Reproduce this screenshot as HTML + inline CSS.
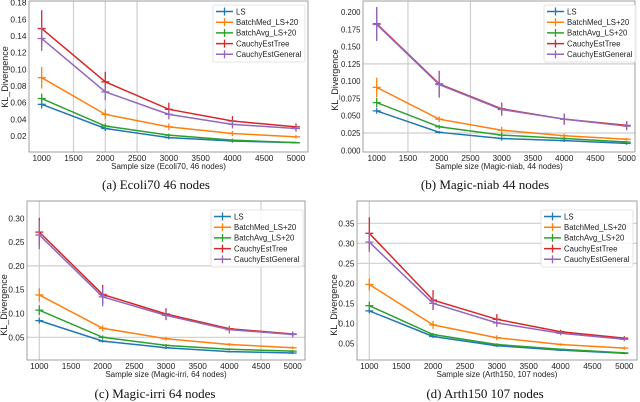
<!DOCTYPE html>
<html><head><meta charset="utf-8"><style>
html,body{margin:0;padding:0;background:#fff;}
svg{display:block;font-family:"Liberation Sans",sans-serif;}
.cap{font-family:"Liberation Serif",serif;font-size:13px;}
</style></head><body>
<svg id="fig" width="640" height="402" viewBox="0 0 640 402"></svg>
<script>
const xVals=[1000,2000,3000,4000,5000];
const xTicks=[1000,1500,2000,2500,3000,3500,4000,4500,5000];
const seriesNames=["LS","BatchMed_LS+20","BatchAvg_LS+20","CauchyEstTree","CauchyEstGeneral"];
const colors=["#1f77b4","#ff7f0e","#2ca02c","#d62728","#9467bd"];
// Panel a
const aLS=[.058,.029,.018,.014,.012], aMed=[.090,.046,.031,.023,.019], aAvg=[.065,.032,.021,.015,.012], aTree=[.149,.085,.052,.038,.031], aGen=[.137,.073,.046,.034,.029];
const aErrLS=[.005,.003,.002,.002,.001], aErrMed=[.013,.006,.004,.003,.002], aErrAvg=[.006,.003,.002,.002,.001], aErrTree=[.022,.012,.008,.006,.004], aErrGen=[.015,.010,.006,.005,.004];
const aYTicks=[.02,.04,.06,.08,.10,.12,.14,.16,.18];
// Panel b
const bLS=[.057,.026,.017,.014,.010], bMed=[.091,.045,.029,.021,.016], bAvg=[.069,.034,.022,.017,.012], bTree=[.183,.096,.060,.045,.036], bGen=[.182,.095,.059,.045,.035];
const bErrLS=[.004,.002,.003,.002,.002], bErrMed=[.014,.004,.005,.003,.002], bErrAvg=[.007,.003,.003,.002,.001], bErrTree=[.024,.019,.009,.008,.006], bErrGen=[.024,.019,.009,.008,.006];
const bYTicks=[0,.025,.05,.075,.1,.125,.15,.175,.2];
// Panel c
const cLS=[.085,.042,.028,.020,.017], cMed=[.139,.069,.047,.035,.028], cAvg=[.107,.050,.033,.025,.021], cTree=[.271,.140,.099,.068,.057], cGen=[.265,.135,.096,.066,.056];
const cErrLS=[.006,.003,.003,.002,.002], cErrMed=[.014,.006,.004,.003,.003], cErrAvg=[.010,.004,.003,.002,.002], cErrTree=[.030,.020,.012,.006,.005], cErrGen=[.030,.020,.010,.008,.006];
const cYTicks=[.05,.10,.15,.20,.25,.30];
// Panel d
const dLS=[.131,.067,.044,.033,.025], dMed=[.197,.096,.064,.047,.038], dAvg=[.144,.072,.047,.035,.026], dTree=[.325,.158,.110,.079,.063], dGen=[.303,.150,.101,.075,.060];
const dErrLS=[.006,.004,.003,.002,.002], dErrMed=[.015,.010,.006,.003,.004], dErrAvg=[.010,.004,.003,.002,.002], dErrTree=[.040,.025,.013,.005,.005], dErrGen=[.025,.015,.010,.005,.005];
const dYTicks=[.05,.10,.15,.20,.25,.30,.35];

const NS="http://www.w3.org/2000/svg";
const svg=document.getElementById("fig");
function mk(tag,attrs,parent){const e=document.createElementNS(NS,tag);for(const k in attrs)e.setAttribute(k,attrs[k]);(parent||svg).appendChild(e);return e;}

const panels=[
 {id:"a",series:[aLS,aMed,aAvg,aTree,aGen],errs:[aErrLS,aErrMed,aErrAvg,aErrTree,aErrGen],yt:aYTicks,dec:2,tf:8.3,
  box:[29,1,308,152],x0:41.7,x1:296,yA:.18,pA:2.7,yB:.02,pB:136,
  vg:[1500,2000,2500],hg:[],leg:[213,5],ylab:[5,77],xlab:"Sample size (Ecoli70, 46 nodes)",cap:"(a) Ecoli70 46 nodes",cx:156,capY:189},
 {id:"b",series:[bLS,bMed,bAvg,bTree,bGen],errs:[bErrLS,bErrMed,bErrAvg,bErrTree,bErrGen],yt:bYTicks,dec:3,tf:7.8,
  box:[363,1,635,152],x0:376.7,x1:626.7,yA:.2,pA:12,yB:0,pB:150.3,
  vg:[1500,2500],hg:[.125,.025],leg:[544,5],ylab:[335,80],xlab:"Sample size (Magic-niab, 44 nodes)",cap:"(b) Magic-niab 44 nodes",cx:485,capY:189},
 {id:"c",series:[cLS,cMed,cAvg,cTree,cGen],errs:[cErrLS,cErrMed,cErrAvg,cErrTree,cErrGen],yt:cYTicks,dec:2,tf:8.3,
  box:[27,201,305,360],x0:39.3,x1:292.7,yA:.30,pA:218.3,yB:.05,pB:337.3,
  vg:[1000,4500],hg:[.20,.05],leg:[211,210],ylab:[4,305],xlab:"Sample size (Magic-irri, 64 nodes)",cap:"(c) Magic-irri 64 nodes",cx:155,capY:398},
 {id:"d",series:[dLS,dMed,dAvg,dTree,dGen],errs:[dErrLS,dErrMed,dErrAvg,dErrTree,dErrGen],yt:dYTicks,dec:2,tf:8.3,
  box:[357,201,637,360],x0:369.3,x1:624.3,yA:.35,pA:223.3,yB:.05,pB:343.3,
  vg:[1000],hg:[.35,.30,.25],leg:[541,210],ylab:[334,305],xlab:"Sample size (Arth150, 107 nodes)",cap:"(d) Arth150 107 nodes",cx:485,capY:398}
];

panels.forEach(P=>{
  const g=mk("g",{});
  
  
  const X=v=>P.x0+(v-1000)/4000*(P.x1-P.x0);
  const Y=v=>P.pB+(v-P.yB)/(P.yA-P.yB)*(P.pA-P.pB);
  const [L,T,R,B]=P.box;
  P.vg.forEach(v=>{const l=mk("line",{x1:X(v),x2:X(v),y1:T,y2:B,stroke:"#cfcfcf","stroke-width":1.2},g);});
  P.hg.forEach(v=>{const l=mk("line",{x1:L,x2:R,y1:Y(v),y2:Y(v),stroke:"#cfcfcf","stroke-width":1.2},g);});
  const fr=mk("rect",{x:L,y:T,width:R-L,height:B-T,fill:"none",stroke:"#888","stroke-width":0.8},g);
  
  xTicks.forEach(v=>{const t=mk("text",{x:X(v),y:B+9,"font-size":8.3,"text-anchor":"middle",fill:"#222"},g);t.textContent=v;});
  P.yt.forEach(v=>{const t=mk("text",{x:L-2.5,y:Y(v)+3,"font-size":P.tf,"text-anchor":"end",fill:"#222"},g);t.textContent=v.toFixed(P.dec);});
  const xl=mk("text",{x:(L+R)/2,y:B+17,"font-size":8,"text-anchor":"middle",fill:"#222"},g);xl.textContent=P.xlab;
  
  const yl=mk("text",{x:P.ylab[0],y:P.ylab[1],"font-size":9,"text-anchor":"middle",fill:"#222",transform:`rotate(-90 ${P.ylab[0]} ${P.ylab[1]})`,"dominant-baseline":"central"},g);yl.textContent="KL_Divergence";
  
  P.series.forEach((s,i)=>{
    const sg=mk("g",{},g);
    
    
    const pl=mk("polyline",{points:s.map((v,k)=>X(xVals[k])+","+Y(v)).join(" "),fill:"none",stroke:colors[i],"stroke-width":1.5},sg);
    
    s.forEach((v,k)=>{
      const e=P.errs[i][k];
      const eb=mk("line",{x1:X(xVals[k]),x2:X(xVals[k]),y1:Y(v-e),y2:Y(v+e),stroke:colors[i],"stroke-width":1.3},sg);
      
      const mm=mk("line",{x1:X(xVals[k])-4,x2:X(xVals[k])+4,y1:Y(v),y2:Y(v),stroke:colors[i],"stroke-width":1.3},sg);
      
    });
  });
  const [lx,ly]=P.leg;
  const lg=mk("g",{},g);
  
  mk("rect",{x:lx,y:ly,width:92,height:57,fill:"#fff","fill-opacity":0.85,stroke:"#ddd","stroke-width":0.8,rx:2},lg);
  seriesNames.forEach((n,i)=>{
    const yy=ly+6.5+i*10.7;
    const le=mk("g",{},lg);
    
    mk("line",{x1:lx+3,x2:lx+20,y1:yy,y2:yy,stroke:colors[i],"stroke-width":1.5},le);
    mk("line",{x1:lx+11.5,x2:lx+11.5,y1:yy-4,y2:yy+4,stroke:colors[i],"stroke-width":1.3},le);
    const t=mk("text",{x:lx+23,y:yy+2.8,"font-size":7.8,fill:"#222"},le);t.textContent=n;
  });
  const c=mk("text",{x:P.cx,y:P.capY,"text-anchor":"middle",class:"cap",fill:"#111"},g);c.textContent=P.cap;
  
});
</script>
</body></html>
